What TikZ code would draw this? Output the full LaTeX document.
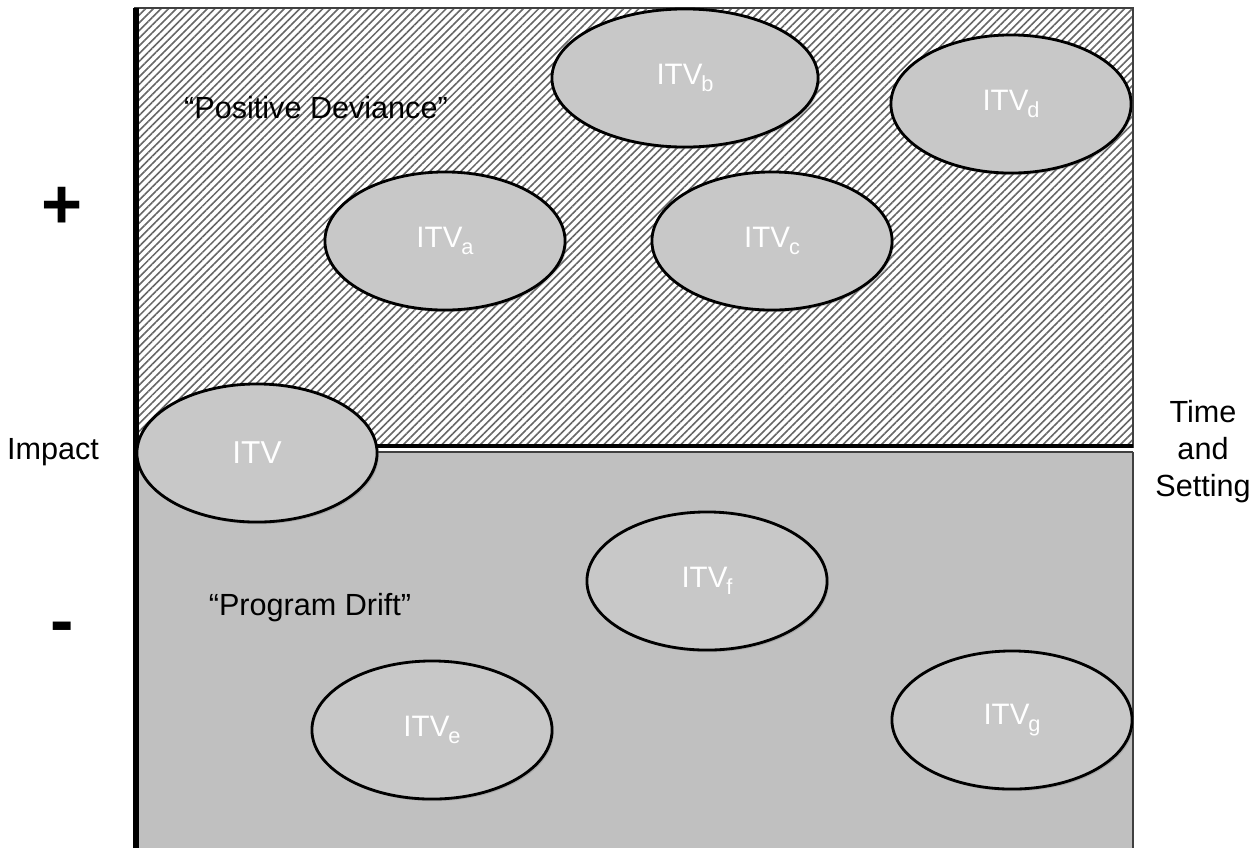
\documentclass[tikz,border=0pt]{standalone}
\usepackage{fontspec}
\setmainfont{Liberation Sans}
\usetikzlibrary{shapes.geometric,patterns.meta,shadows}

\definecolor{fieldgray}{HTML}{C0C0C0}
\definecolor{itvgray}{HTML}{C8C8C8}

\newcommand{\itvsub}[1]{\kern-0.3pt\raisebox{-2pt}{\fontsize{6.2}{7}\selectfont #1}}

\tikzset{
  itv/.style={ellipse, draw=black, thick, fill=itvgray, minimum width=2.4cm,
    minimum height=1.38cm, inner sep=0pt, text=white,
    font=\fontsize{8.4}{10}\selectfont,
    drop shadow={opacity=0.35, shadow xshift=0.5pt, shadow yshift=-0.6pt}},
  lbl/.style={font=\fontsize{8.7}{10.5}\selectfont, align=center}
}

\begin{document}
\begin{tikzpicture}[x=0.01cm, y=-0.01cm]

\useasboundingbox (0,0) rectangle (1255,848);

% upper field, hatched
\fill[white] (135,8) rectangle (1133,447);
\fill[pattern={Lines[angle=45, distance=1.55pt, line width=0.45pt]}, pattern color=black!60] (135,8) rectangle (1133,447);
\draw[black!75, semithick] (135,8) rectangle (1133,447);
\draw[black, line width=1.4pt] (135,446) -- (1133,446);

% lower field
\fill[fieldgray] (135,452) rectangle (1133,848);
\draw[black!75, semithick] (1133,452) -- (135,452) (1133,452) -- (1133,848);
\draw[black, line width=1.6pt] (136,8) -- (136,848);

% labels
\node[lbl] (pd) at (316,108) {``Positive Deviance''};
\node[lbl] (drift) at (310,608) {``Program Drift''};
\node[lbl] (impact) at (53,452) {Impact};
\node[lbl, font=\fontsize{20}{20}\selectfont\bfseries] (plus) at (62,208) {+};
\node[lbl, font=\fontsize{20}{20}\selectfont\bfseries] (minus) at (62,633) {-};
\node[lbl, text width=2cm] (time) at (1203,452) {Time\\and\\Setting};

% interventions
\node[itv, font=\fontsize{9}{11}\selectfont] (itv) at (257,453) {ITV};
\node[itv, minimum width=2.66cm] (itvb) at (685,78) {ITV\itvsub{b}};
\node[itv] (itvd) at (1011,104) {ITV\itvsub{d}};
\node[itv] (itva) at (445,241) {ITV\itvsub{a}};
\node[itv] (itvc) at (772,241) {ITV\itvsub{c}};
\node[itv] (itvf) at (707,581) {ITV\itvsub{f}};
\node[itv] (itve) at (432,730) {ITV\itvsub{e}};
\node[itv] (itvg) at (1012,720) {ITV\itvsub{g}};

\end{tikzpicture}
\end{document}
